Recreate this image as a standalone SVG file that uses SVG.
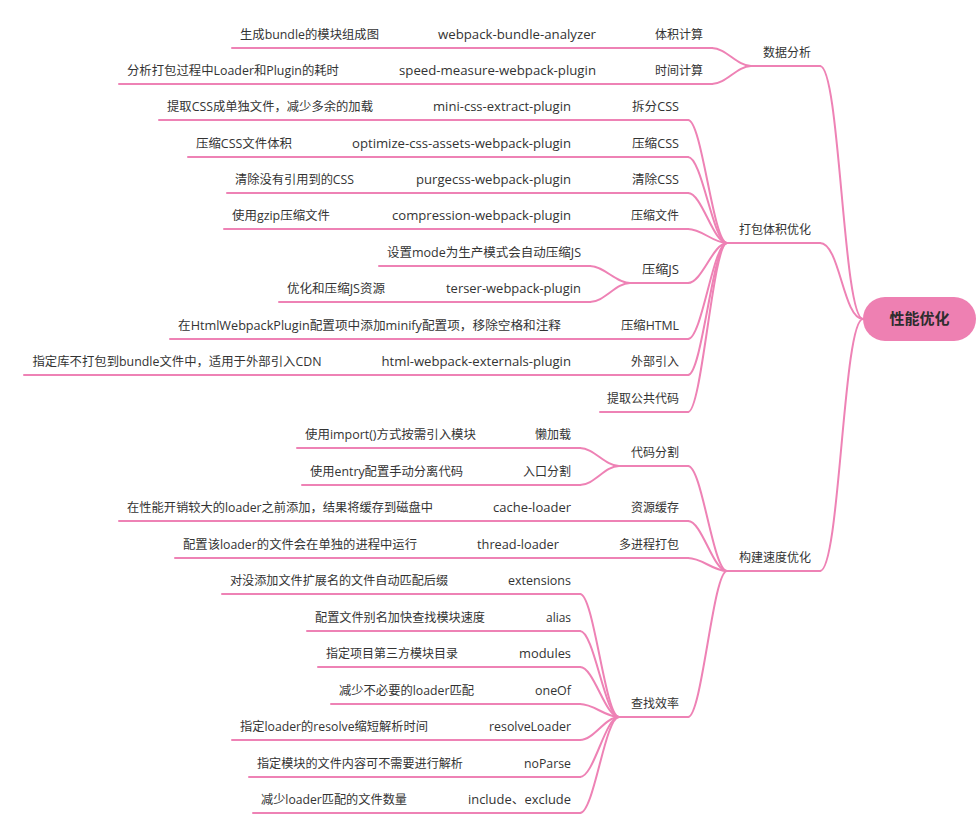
<svg xmlns="http://www.w3.org/2000/svg" width="977" height="831" viewBox="0 0 977 831">
<style>
.t{font-family:"Open Sans","Noto Sans CJK SC",sans-serif;font-size:12px;fill:#333333}
.u{fill:none;stroke:#ee82b5;stroke-width:2;stroke-linecap:round}
.c{fill:none;stroke:#ee82b5;stroke-width:2;stroke-linecap:round}
.rt{font-family:"Noto Sans CJK SC",sans-serif;font-size:15px;font-weight:bold;fill:#2d2d2d}
</style>
<rect width="977" height="831" fill="#ffffff"/>
<g id="connectors">
<path class="c" d="M820,66 C840,66 843,319 863,319"/>
<path class="c" d="M820,243 C840,243 843,319 863,319"/>
<path class="c" d="M820,571 C840,571 843,319 863,319"/>
<path class="c" d="M712,48 C726,48 737,66 751,66"/>
<path class="c" d="M712,84 C726,84 737,66 751,66"/>
<path class="c" d="M688,120 C702,120 713,243 727,243"/>
<path class="c" d="M688,157 C702,157 713,243 727,243"/>
<path class="c" d="M688,193 C702,193 713,243 727,243"/>
<path class="c" d="M688,229 C702,229 713,243 727,243"/>
<path class="c" d="M688,283 C702,283 713,243 727,243"/>
<path class="c" d="M688,339 C702,339 713,243 727,243"/>
<path class="c" d="M688,375 C702,375 713,243 727,243"/>
<path class="c" d="M688,412 C702,412 713,243 727,243"/>
<path class="c" d="M688,466 C702,466 713,571 727,571"/>
<path class="c" d="M688,521 C702,521 713,571 727,571"/>
<path class="c" d="M688,558 C702,558 713,571 727,571"/>
<path class="c" d="M688,717 C702,717 713,571 727,571"/>
<path class="c" d="M590,266 C604,266 616,283 630,283"/>
<path class="c" d="M590,302 C604,302 616,283 630,283"/>
<path class="c" d="M580,448 C594,448 605,466 619,466"/>
<path class="c" d="M580,485 C594,485 605,466 619,466"/>
<path class="c" d="M580,594 C594,594 605,717 619,717"/>
<path class="c" d="M580,631 C594,631 605,717 619,717"/>
<path class="c" d="M580,667 C594,667 605,717 619,717"/>
<path class="c" d="M580,704 C594,704 605,717 619,717"/>
<path class="c" d="M580,740 C594,740 605,717 619,717"/>
<path class="c" d="M580,777 C594,777 605,717 619,717"/>
<path class="c" d="M580,813 C594,813 605,717 619,717"/>
<path class="c" d="M605,48 H643"/>
<path class="c" d="M388,48 H426"/>
<path class="c" d="M605,84 H643"/>
<path class="c" d="M348,84 H387"/>
<path class="c" d="M580,120 H620"/>
<path class="c" d="M382,120 H421"/>
<path class="c" d="M580,157 H620"/>
<path class="c" d="M301,157 H340"/>
<path class="c" d="M580,193 H620"/>
<path class="c" d="M363,193 H404"/>
<path class="c" d="M580,229 H619"/>
<path class="c" d="M339,229 H380"/>
<path class="c" d="M394,302 H434"/>
<path class="c" d="M570,339 H609"/>
<path class="c" d="M580,375 H619"/>
<path class="c" d="M330,375 H369"/>
<path class="c" d="M485,448 H523"/>
<path class="c" d="M472,485 H511"/>
<path class="c" d="M580,521 H620"/>
<path class="c" d="M442,521 H481"/>
<path class="c" d="M568,558 H607"/>
<path class="c" d="M426,558 H465"/>
<path class="c" d="M457,594 H496"/>
<path class="c" d="M494,631 H534"/>
<path class="c" d="M467,667 H507"/>
<path class="c" d="M483,704 H523"/>
<path class="c" d="M437,740 H477"/>
<path class="c" d="M472,777 H512"/>
<path class="c" d="M416,813 H456"/>
</g>
<g id="root">
<rect x="863" y="297" width="113" height="44" rx="22" ry="22" fill="#ee80b2"/>
<text class="rt" x="919.5" y="324" text-anchor="middle">性能优化</text>
</g>
<g id="n-A"><path class="u" d="M751,66 H820"/><text class="t" x="763" y="57" textLength="48" lengthAdjust="spacingAndGlyphs">数据分析</text></g>
<g id="n-B"><path class="u" d="M727,243 H820"/><text class="t" x="739" y="234" textLength="72" lengthAdjust="spacingAndGlyphs">打包体积优化</text></g>
<g id="n-C"><path class="u" d="M727,571 H820"/><text class="t" x="739" y="562" textLength="72" lengthAdjust="spacingAndGlyphs">构建速度优化</text></g>
<g id="n-A1"><path class="u" d="M643,48 H712"/><text class="t" x="655" y="39" textLength="48" lengthAdjust="spacingAndGlyphs">体积计算</text></g>
<g id="n-A2"><path class="u" d="M643,84 H712"/><text class="t" x="655" y="75" textLength="48" lengthAdjust="spacingAndGlyphs">时间计算</text></g>
<g id="n-A1a"><path class="u" d="M426,48 H605"/><text class="t" x="438" y="39" textLength="158" lengthAdjust="spacingAndGlyphs">webpack-bundle-analyzer</text></g>
<g id="n-A2a"><path class="u" d="M387,84 H605"/><text class="t" x="399" y="75" textLength="197" lengthAdjust="spacingAndGlyphs">speed-measure-webpack-plugin</text></g>
<g id="n-A1a1"><path class="u" d="M232,48 H388"/><text class="t" x="240" y="39" textLength="139" lengthAdjust="spacingAndGlyphs">生成bundle的模块组成图</text></g>
<g id="n-A2a1"><path class="u" d="M119,84 H348"/><text class="t" x="127" y="75" textLength="212" lengthAdjust="spacingAndGlyphs">分析打包过程中Loader和Plugin的耗时</text></g>
<g id="n-B1"><path class="u" d="M620,120 H688"/><text class="t" x="632" y="111" textLength="47" lengthAdjust="spacingAndGlyphs">拆分CSS</text></g>
<g id="n-B2"><path class="u" d="M620,157 H688"/><text class="t" x="632" y="148" textLength="47" lengthAdjust="spacingAndGlyphs">压缩CSS</text></g>
<g id="n-B3"><path class="u" d="M620,193 H688"/><text class="t" x="632" y="184" textLength="47" lengthAdjust="spacingAndGlyphs">清除CSS</text></g>
<g id="n-B4"><path class="u" d="M619,229 H688"/><text class="t" x="631" y="220" textLength="48" lengthAdjust="spacingAndGlyphs">压缩文件</text></g>
<g id="n-B5"><path class="u" d="M630,283 H688"/><text class="t" x="642" y="274" textLength="37" lengthAdjust="spacingAndGlyphs">压缩JS</text></g>
<g id="n-B6"><path class="u" d="M609,339 H688"/><text class="t" x="621" y="330" textLength="58" lengthAdjust="spacingAndGlyphs">压缩HTML</text></g>
<g id="n-B7"><path class="u" d="M619,375 H688"/><text class="t" x="631" y="366" textLength="48" lengthAdjust="spacingAndGlyphs">外部引入</text></g>
<g id="n-B8"><path class="u" d="M600,412 H688"/><text class="t" x="607" y="403" textLength="72" lengthAdjust="spacingAndGlyphs">提取公共代码</text></g>
<g id="n-B1a"><path class="u" d="M421,120 H580"/><text class="t" x="433" y="111" textLength="138" lengthAdjust="spacingAndGlyphs">mini-css-extract-plugin</text></g>
<g id="n-B1a1"><path class="u" d="M159,120 H382"/><text class="t" x="167" y="111" textLength="206" lengthAdjust="spacingAndGlyphs">提取CSS成单独文件，减少多余的加载</text></g>
<g id="n-B2a"><path class="u" d="M340,157 H580"/><text class="t" x="352" y="148" textLength="219" lengthAdjust="spacingAndGlyphs">optimize-css-assets-webpack-plugin</text></g>
<g id="n-B2a1"><path class="u" d="M188,157 H301"/><text class="t" x="196" y="148" textLength="96" lengthAdjust="spacingAndGlyphs">压缩CSS文件体积</text></g>
<g id="n-B3a"><path class="u" d="M404,193 H580"/><text class="t" x="416" y="184" textLength="155" lengthAdjust="spacingAndGlyphs">purgecss-webpack-plugin</text></g>
<g id="n-B3a1"><path class="u" d="M227,193 H363"/><text class="t" x="235" y="184" textLength="119" lengthAdjust="spacingAndGlyphs">清除没有引用到的CSS</text></g>
<g id="n-B4a"><path class="u" d="M380,229 H580"/><text class="t" x="392" y="220" textLength="179" lengthAdjust="spacingAndGlyphs">compression-webpack-plugin</text></g>
<g id="n-B4a1"><path class="u" d="M224,229 H339"/><text class="t" x="232" y="220" textLength="98" lengthAdjust="spacingAndGlyphs">使用gzip压缩文件</text></g>
<g id="n-B5a"><path class="u" d="M379,266 H590"/><text class="t" x="387" y="257" textLength="194" lengthAdjust="spacingAndGlyphs">设置mode为生产模式会自动压缩JS</text></g>
<g id="n-B5b"><path class="u" d="M434,302 H590"/><text class="t" x="446" y="293" textLength="135" lengthAdjust="spacingAndGlyphs">terser-webpack-plugin</text></g>
<g id="n-B5b1"><path class="u" d="M279,302 H394"/><text class="t" x="287" y="293" textLength="98" lengthAdjust="spacingAndGlyphs">优化和压缩JS资源</text></g>
<g id="n-B6a"><path class="u" d="M170,339 H570"/><text class="t" x="178" y="330" textLength="383" lengthAdjust="spacingAndGlyphs">在HtmlWebpackPlugin配置项中添加minify配置项，移除空格和注释</text></g>
<g id="n-B7a"><path class="u" d="M369,375 H580"/><text class="t" x="381.5" y="366" textLength="189.5" lengthAdjust="spacingAndGlyphs">html-webpack-externals-plugin</text></g>
<g id="n-B7a1"><path class="u" d="M24,375 H330"/><text class="t" x="32.5" y="366" textLength="289" lengthAdjust="spacingAndGlyphs">指定库不打包到bundle文件中，适用于外部引入CDN</text></g>
<g id="n-C1"><path class="u" d="M619,466 H688"/><text class="t" x="631" y="457" textLength="48" lengthAdjust="spacingAndGlyphs">代码分割</text></g>
<g id="n-C2"><path class="u" d="M620,521 H688"/><text class="t" x="631" y="512" textLength="48" lengthAdjust="spacingAndGlyphs">资源缓存</text></g>
<g id="n-C3"><path class="u" d="M607,558 H688"/><text class="t" x="619" y="549" textLength="60" lengthAdjust="spacingAndGlyphs">多进程打包</text></g>
<g id="n-C4"><path class="u" d="M619,717 H688"/><text class="t" x="631" y="708" textLength="48" lengthAdjust="spacingAndGlyphs">查找效率</text></g>
<g id="n-C1a"><path class="u" d="M523,448 H580"/><text class="t" x="535" y="439" textLength="36" lengthAdjust="spacingAndGlyphs">懒加载</text></g>
<g id="n-C1a1"><path class="u" d="M297,448 H485"/><text class="t" x="305" y="439" textLength="171" lengthAdjust="spacingAndGlyphs">使用import()方式按需引入模块</text></g>
<g id="n-C1b"><path class="u" d="M511,485 H580"/><text class="t" x="523" y="476" textLength="48" lengthAdjust="spacingAndGlyphs">入口分割</text></g>
<g id="n-C1b1"><path class="u" d="M302,485 H472"/><text class="t" x="310" y="476" textLength="153" lengthAdjust="spacingAndGlyphs">使用entry配置手动分离代码</text></g>
<g id="n-C2a"><path class="u" d="M481,521 H580"/><text class="t" x="493" y="512" textLength="78" lengthAdjust="spacingAndGlyphs">cache-loader</text></g>
<g id="n-C2a1"><path class="u" d="M119,521 H442"/><text class="t" x="127" y="512" textLength="306" lengthAdjust="spacingAndGlyphs">在性能开销较大的loader之前添加，结果将缓存到磁盘中</text></g>
<g id="n-C3a"><path class="u" d="M465,558 H568"/><text class="t" x="477" y="549" textLength="82" lengthAdjust="spacingAndGlyphs">thread-loader</text></g>
<g id="n-C3a1"><path class="u" d="M175,558 H426"/><text class="t" x="183" y="549" textLength="234" lengthAdjust="spacingAndGlyphs">配置该loader的文件会在单独的进程中运行</text></g>
<g id="n-C4a"><path class="u" d="M496,594 H580"/><text class="t" x="508" y="585" textLength="63" lengthAdjust="spacingAndGlyphs">extensions</text></g>
<g id="n-C4a1"><path class="u" d="M222,594 H457"/><text class="t" x="230" y="585" textLength="218" lengthAdjust="spacingAndGlyphs">对没添加文件扩展名的文件自动匹配后缀</text></g>
<g id="n-C4b"><path class="u" d="M534,631 H580"/><text class="t" x="546" y="622" textLength="25" lengthAdjust="spacingAndGlyphs">alias</text></g>
<g id="n-C4b1"><path class="u" d="M307,631 H494"/><text class="t" x="315" y="622" textLength="170" lengthAdjust="spacingAndGlyphs">配置文件别名加快查找模块速度</text></g>
<g id="n-C4c"><path class="u" d="M507,667 H580"/><text class="t" x="519" y="658" textLength="52" lengthAdjust="spacingAndGlyphs">modules</text></g>
<g id="n-C4c1"><path class="u" d="M318,667 H467"/><text class="t" x="326" y="658" textLength="132" lengthAdjust="spacingAndGlyphs">指定项目第三方模块目录</text></g>
<g id="n-C4d"><path class="u" d="M523,704 H580"/><text class="t" x="535" y="695" textLength="36" lengthAdjust="spacingAndGlyphs">oneOf</text></g>
<g id="n-C4d1"><path class="u" d="M331,704 H483"/><text class="t" x="339" y="695" textLength="135" lengthAdjust="spacingAndGlyphs">减少不必要的loader匹配</text></g>
<g id="n-C4e"><path class="u" d="M477,740 H580"/><text class="t" x="489" y="731" textLength="82" lengthAdjust="spacingAndGlyphs">resolveLoader</text></g>
<g id="n-C4e1"><path class="u" d="M232,740 H437"/><text class="t" x="240" y="731" textLength="188" lengthAdjust="spacingAndGlyphs">指定loader的resolve缩短解析时间</text></g>
<g id="n-C4f"><path class="u" d="M512,777 H580"/><text class="t" x="524" y="768" textLength="47" lengthAdjust="spacingAndGlyphs">noParse</text></g>
<g id="n-C4f1"><path class="u" d="M249,777 H472"/><text class="t" x="257" y="768" textLength="206" lengthAdjust="spacingAndGlyphs">指定模块的文件内容可不需要进行解析</text></g>
<g id="n-C4g"><path class="u" d="M456,813 H580"/><text class="t" x="468" y="804" textLength="103" lengthAdjust="spacingAndGlyphs">include、exclude</text></g>
<g id="n-C4g1"><path class="u" d="M253,813 H416"/><text class="t" x="261" y="804" textLength="146" lengthAdjust="spacingAndGlyphs">减少loader匹配的文件数量</text></g>
</svg>
